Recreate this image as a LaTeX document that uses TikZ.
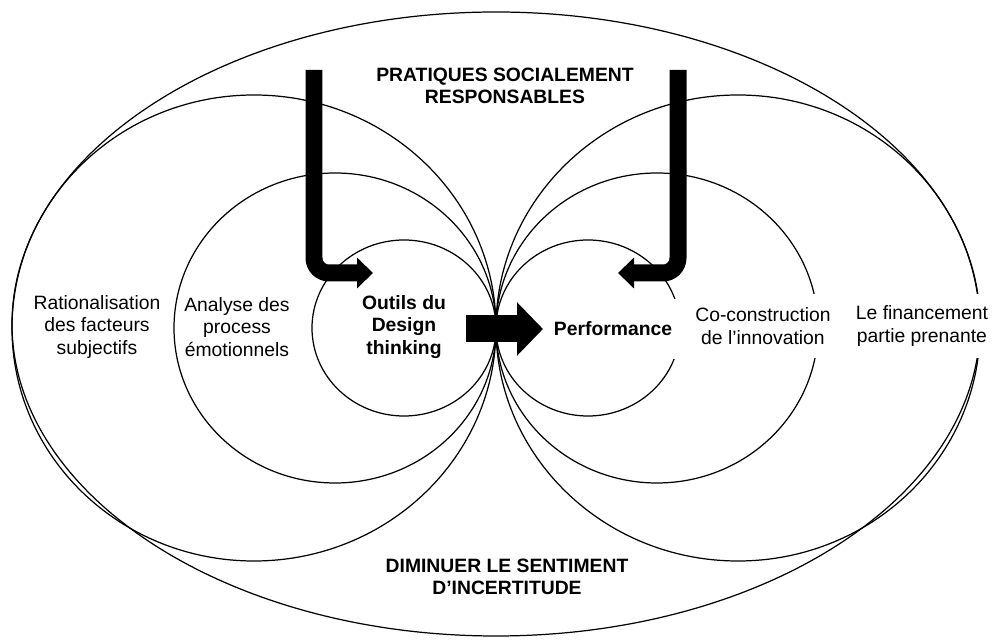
\documentclass[tikz,border=0pt]{standalone}
\usepackage{fontspec}
\setmainfont{Liberation Sans}
\usetikzlibrary{arrows.meta}

\tikzset{
  ring/.style={black, line width=0.7pt},
  lbl/.style={align=center, inner sep=1pt, font=\fontsize{11}{12.8}\selectfont},
  boldlbl/.style={lbl, font=\fontsize{11}{12.8}\selectfont\bfseries},
  gap/.style={fill=white, minimum height=1.3cm},
  bigarrow/.style={black, line width=0.34cm, rounded corners=0.3cm,
    -{Triangle[width=0.6cm, length=0.32cm]}}
}

\begin{document}
\begin{tikzpicture}[x=0.02cm, y=-0.02cm]
\useasboundingbox (0,0) rectangle (992,641);

\coordinate (T) at (496,328);
\draw[ring] (496,324) ellipse [x radius=484, y radius=312];
\foreach \a/\b in {242/233, 161/155, 92/88} {
  \draw[ring] (T) ++(-\a,0) ellipse [x radius=\a, y radius=\b];
  \draw[ring] (T) ++(\a,0) ellipse [x radius=\a, y radius=\b];
}

\node[boldlbl] (prat) at (505,86) {PRATIQUES SOCIALEMENT\\RESPONSABLES};
\node[boldlbl] (dimin) at (507,577) {DIMINUER LE SENTIMENT\\D’INCERTITUDE};

\node[lbl] (ratio) at (97,327) {Rationalisation\\des facteurs\\subjectifs};
\node[lbl] (analyse) at (237,327) {Analyse des\\process\\émotionnels};
\node[boldlbl] (outils) at (404,327) {Outils du\\Design\\thinking};
\node[boldlbl, gap, inner xsep=6pt, minimum height=1.2cm] (perf) at (613,329) {Performance};
\node[lbl, gap] (coco) at (763,326) {Co-construction\\de l’innovation};
\node[lbl, gap] (fin) at (922,326) {Le financement\\partie prenante};

% fleches
\coordinate (la) at (314,70);
\coordinate (lb) at (314,273);
\coordinate (lc) at (373,273);
\coordinate (ra) at (678,70);
\coordinate (rb) at (678,273);
\coordinate (rc) at (618,273);
\draw[bigarrow] (la) -- (lb) -- (lc);
\draw[bigarrow] (ra) -- (rb) -- (rc);

\coordinate (ma) at (466,329);
\coordinate (mb) at (543,329);
\draw[black, line width=0.54cm, -{Triangle[width=1.04cm, length=0.52cm]}] (ma) -- (mb);
\end{tikzpicture}
\end{document}
